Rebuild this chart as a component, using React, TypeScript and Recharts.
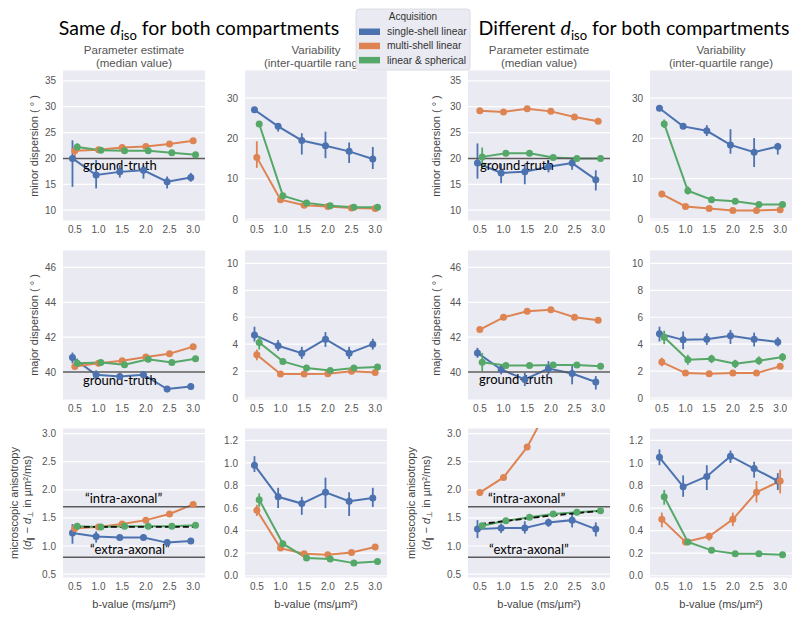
import React from "react";
import { LineChart, Line, XAxis, YAxis, CartesianGrid, ReferenceLine, ErrorBar } from "recharts";

// categories and series
const B_VALUES = ["0.5", "1.0", "1.5", "2.0", "2.5", "3.0"];
const SERIES_NAMES = ["single-shell linear", "multi-shell linear", "linear & spherical"];
const SERIES_COLORS = ["#4C72B0", "#DD8452", "#55A868"];
const DODGE = [-0.1, 0, 0.1];

// minor dispersion, same d_iso (median)
const minorSameSingle = [20.0, 16.8, 17.4, 17.7, 15.5, 16.3];
const minorSameSingleCI = [[14.5, 23.5], [14.2, 19.7], [16.3, 18.7], [16.1, 18.6], [14.2, 16.5], [15.5, 17.2]];
const minorSameMulti = [21.5, 21.7, 22.1, 22.3, 22.8, 23.4];
const minorSameMultiCI = [[20.2, 22.5], [21.2, 22.2], [21.7, 22.5], [21.9, 22.7], [22.4, 23.2], [23.0, 23.8]];
const minorSameSph = [22.2, 21.6, 21.5, 21.5, 21.1, 20.7];
const minorSameSphCI = [[21.4, 22.9], [21.2, 22.0], [21.1, 21.9], [21.1, 21.9], [20.7, 21.5], [20.3, 21.1]];

// minor dispersion, same d_iso (IQR)
const minorSameIqrSingle = [27.1, 23.0, 19.5, 18.2, 16.8, 14.9];
const minorSameIqrSingleCI = [[26.5, 27.6], [21.7, 23.8], [16.0, 21.3], [15.1, 21.7], [13.9, 19.0], [12.4, 17.9]];
const minorSameIqrMulti = [15.3, 4.8, 3.4, 3.1, 2.7, 2.6];
const minorSameIqrMultiCI = [[12.7, 19.3], [4.4, 5.2], [3.1, 3.7], [2.8, 3.4], [2.4, 3.0], [2.3, 2.9]];
const minorSameIqrSph = [23.6, 5.8, 4.0, 3.3, 2.9, 2.9];
const minorSameIqrSphCI = [[22.9, 24.3], [5.3, 6.3], [3.7, 4.3], [3.0, 3.6], [2.6, 3.2], [2.6, 3.2]];

// minor dispersion, different d_iso (median)
const minorDiffSingle = [19.1, 17.2, 17.4, 18.4, 19.1, 15.9];
const minorDiffSingleCI = [[16.1, 22.9], [15.2, 19.0], [15.0, 19.0], [17.3, 19.6], [17.8, 19.9], [13.8, 17.7]];
const minorDiffMulti = [29.2, 29.0, 29.6, 29.1, 28.0, 27.2];
const minorDiffMultiCI = [[28.9, 29.5], [28.7, 29.3], [29.3, 29.9], [28.8, 29.4], [27.7, 28.3], [26.9, 27.5]];
const minorDiffSph = [20.3, 21.0, 21.0, 20.2, 20.0, 20.0];
const minorDiffSphCI = [[18.1, 22.1], [20.6, 21.4], [20.6, 21.4], [19.8, 20.6], [19.7, 20.3], [19.7, 20.3]];

// minor dispersion, different d_iso (IQR)
const minorDiffIqrSingle = [27.5, 23.0, 21.9, 18.4, 16.6, 18.0];
const minorDiffIqrSingleCI = [[27.0, 27.9], [22.3, 23.7], [20.6, 23.3], [16.2, 22.3], [12.9, 20.1], [16.0, 18.9]];
const minorDiffIqrMulti = [6.2, 3.1, 2.6, 2.1, 2.1, 2.3];
const minorDiffIqrMultiCI = [[5.4, 6.9], [2.8, 3.4], [2.3, 2.9], [1.8, 2.4], [1.8, 2.4], [2.0, 2.6]];
const minorDiffIqrSph = [23.6, 7.0, 4.8, 4.4, 3.6, 3.6];
const minorDiffIqrSphCI = [[22.6, 24.7], [6.1, 8.1], [4.5, 5.1], [4.1, 4.7], [3.3, 3.9], [3.3, 3.9]];

// major dispersion, same d_iso (median)
const majorSameSingle = [40.83, 39.85, 39.75, 39.85, 39.03, 39.18];
const majorSameSingleCI = [[40.51, 41.12], [39.6, 40.1], [39.55, 39.95], [39.65, 40.05], [38.85, 39.2], [39.0, 39.35]];
const majorSameMulti = [40.32, 40.51, 40.65, 40.86, 41.05, 41.46];
const majorSameMultiCI = [[40.2, 40.45], [40.41, 40.61], [40.55, 40.75], [40.76, 40.96], [40.95, 41.15], [41.36, 41.56]];
const majorSameSph = [40.51, 40.55, 40.42, 40.74, 40.55, 40.76];
const majorSameSphCI = [[40.25, 40.78], [40.4, 40.7], [40.28, 40.56], [40.6, 40.88], [40.42, 40.68], [40.62, 40.9]];

// major dispersion, same d_iso (IQR)
const majorSameIqrSingle = [4.69, 3.88, 3.33, 4.37, 3.33, 4.0];
const majorSameIqrSingleCI = [[4.2, 5.3], [3.5, 4.3], [2.9, 3.8], [3.8, 4.9], [2.9, 3.8], [3.6, 4.4]];
const majorSameIqrMulti = [3.21, 1.78, 1.78, 1.8, 1.98, 1.9];
const majorSameIqrMultiCI = [[2.8, 3.6], [1.65, 1.9], [1.65, 1.9], [1.68, 1.92], [1.86, 2.1], [1.78, 2.02]];
const majorSameIqrSph = [4.12, 2.72, 2.22, 2.05, 2.22, 2.3];
const majorSameIqrSphCI = [[3.6, 4.6], [2.55, 2.9], [2.08, 2.36], [1.92, 2.18], [2.08, 2.36], [2.15, 2.45]];

// major dispersion, different d_iso (median)
const majorDiffSingle = [41.1, 40.15, 39.58, 40.2, 39.92, 39.43];
const majorDiffSingleCI = [[40.82, 41.39], [39.87, 40.43], [39.2, 39.96], [39.87, 40.63], [39.3, 40.44], [39.0, 39.77]];
const majorDiffMulti = [42.44, 43.14, 43.49, 43.58, 43.14, 42.97];
const majorDiffMultiCI = [[42.3, 42.58], [43.0, 43.28], [43.35, 43.63], [43.42, 43.74], [43.0, 43.28], [42.82, 43.12]];
const majorDiffSph = [40.57, 40.38, 40.38, 40.4, 40.4, 40.34];
const majorDiffSphCI = [[40.06, 41.1], [40.22, 40.55], [40.22, 40.55], [40.24, 40.56], [40.24, 40.56], [40.18, 40.5]];

// major dispersion, different d_iso (IQR)
const majorDiffIqrSingle = [4.77, 4.32, 4.37, 4.62, 4.37, 4.17];
const majorDiffIqrSingleCI = [[4.2, 5.3], [3.63, 4.94], [3.95, 4.8], [4.02, 5.06], [3.83, 4.86], [3.83, 4.52]];
const majorDiffIqrMulti = [2.67, 1.85, 1.8, 1.85, 1.85, 2.35];
const majorDiffIqrMultiCI = [[2.35, 3.0], [1.72, 1.98], [1.67, 1.93], [1.72, 1.98], [1.72, 1.98], [2.2, 2.5]];
const majorDiffIqrSph = [4.52, 2.84, 2.91, 2.54, 2.77, 3.04];
const majorDiffIqrSphCI = [[4.0, 5.0], [2.47, 3.21], [2.59, 3.21], [2.22, 2.84], [2.47, 3.09], [2.72, 3.33]];

// microscopic anisotropy, same d_iso (median)
const anisoSameSingle = [1.23, 1.17, 1.15, 1.15, 1.06, 1.09];
const anisoSameSingleCI = [[1.04, 1.39], [1.06, 1.26], [1.1, 1.2], [1.1, 1.2], [1.02, 1.1], [1.05, 1.13]];
const anisoSameMulti = [1.31, 1.34, 1.39, 1.46, 1.57, 1.74];
const anisoSameMultiCI = [[1.25, 1.39], [1.31, 1.37], [1.36, 1.42], [1.43, 1.49], [1.54, 1.6], [1.71, 1.77]];
const anisoSameSph = [1.35, 1.34, 1.35, 1.35, 1.35, 1.37];
const anisoSameSphCI = [[1.29, 1.41], [1.32, 1.37], [1.33, 1.37], [1.33, 1.37], [1.33, 1.37], [1.35, 1.39]];
const anisoSameTruth = [1.34, 1.34, 1.34, 1.34, 1.34, 1.34];

// microscopic anisotropy, same d_iso (IQR)
const anisoSameIqrSingle = [0.98, 0.7, 0.64, 0.74, 0.66, 0.69];
const anisoSameIqrSingleCI = [[0.92, 1.06], [0.6, 0.78], [0.54, 0.7], [0.6, 0.87], [0.53, 0.74], [0.61, 0.78]];
const anisoSameIqrMulti = [0.58, 0.245, 0.195, 0.186, 0.207, 0.254];
const anisoSameIqrMultiCI = [[0.53, 0.63], [0.23, 0.26], [0.18, 0.21], [0.17, 0.2], [0.19, 0.22], [0.24, 0.27]];
const anisoSameIqrSph = [0.674, 0.284, 0.157, 0.148, 0.112, 0.127];
const anisoSameIqrSphCI = [[0.61, 0.73], [0.26, 0.31], [0.145, 0.17], [0.135, 0.16], [0.1, 0.125], [0.115, 0.14]];

// microscopic anisotropy, different d_iso (median)
const anisoDiffSingle = [1.3, 1.32, 1.32, 1.42, 1.46, 1.3];
const anisoDiffSingleCI = [[1.14, 1.46], [1.23, 1.4], [1.22, 1.44], [1.34, 1.49], [1.33, 1.58], [1.17, 1.42]];
const anisoDiffMulti = [1.95, 2.22, 2.76, 3.55, 4.4, 5.3];
const anisoDiffMultiCI = [[1.92, 1.98], [2.19, 2.25], [2.72, 2.8], [3.5, 3.6], [4.34, 4.46], [5.22, 5.38]];
const anisoDiffSph = [1.36, 1.45, 1.51, 1.57, 1.6, 1.625];
const anisoDiffSphCI = [[1.33, 1.39], [1.43, 1.47], [1.49, 1.53], [1.55, 1.59], [1.58, 1.62], [1.6, 1.65]];
const anisoDiffTruth = [1.39, 1.44, 1.49, 1.54, 1.58, 1.62];

// microscopic anisotropy, different d_iso (IQR)
const anisoDiffIqrSingle = [1.05, 0.79, 0.88, 1.06, 0.95, 0.84];
const anisoDiffIqrSingleCI = [[0.98, 1.12], [0.7, 0.89], [0.76, 0.98], [1.0, 1.11], [0.87, 1.01], [0.76, 0.91]];
const anisoDiffIqrMulti = [0.5, 0.3, 0.35, 0.5, 0.74, 0.84];
const anisoDiffIqrMultiCI = [[0.43, 0.56], [0.27, 0.33], [0.31, 0.38], [0.44, 0.56], [0.65, 0.84], [0.73, 0.94]];
const anisoDiffIqrSph = [0.7, 0.3, 0.225, 0.195, 0.195, 0.186];
const anisoDiffIqrSphCI = [[0.63, 0.76], [0.28, 0.32], [0.21, 0.24], [0.18, 0.21], [0.18, 0.21], [0.17, 0.2]];

// layout
const COL_X = [63, 245, 468, 650];
const ROW_Y = [70, 250, 428];
const ROW_H = [151, 150, 150];
const PLOT_W = 142;
const Y_AXIS_W = 40;
const TOP_PAD = 6;
const X_AXIS_H = 24;

const TICK_STYLE = { fill: "#555", fontSize: 10, fontFamily: "Liberation Sans, Arial, sans-serif" };
const NOTE_FONT = "Lato, 'Open Sans', sans-serif";

const MINOR_TICKS = [10, 15, 20, 25, 30, 35];
const MINOR_IQR_TICKS = [0, 10, 20, 30];
const MAJOR_TICKS = [40, 42, 44, 46];
const MAJOR_IQR_TICKS = [0, 2, 4, 6, 8, 10];
const ANISO_TICKS = [0.5, 1.0, 1.5, 2.0, 2.5, 3.0];
const ANISO_IQR_TICKS = [0, 0.2, 0.4, 0.6, 0.8, 1.0, 1.2];

type Ref = { y: number; text: string; dx: number; dy: number };
type PanelDef = {
  col: number;
  row: number;
  series: [number[], number[][]][];
  domain: [number, number];
  ticks: number[];
  decimals: number;
  refs: Ref[];
  truth?: number[];
};

const gt = (y: number, dx: number, dy: number): Ref => ({ y, text: "ground-truth", dx, dy });

const PANELS: PanelDef[] = [
  { col: 0, row: 0, domain: [7.9, 37.1], ticks: MINOR_TICKS, decimals: 0, refs: [gt(20, 20, 7)],
    series: [[minorSameSingle, minorSameSingleCI], [minorSameMulti, minorSameMultiCI], [minorSameSph, minorSameSphCI]] },
  { col: 1, row: 0, domain: [-0.5, 37], ticks: MINOR_IQR_TICKS, decimals: 0, refs: [],
    series: [[minorSameIqrSingle, minorSameIqrSingleCI], [minorSameIqrMulti, minorSameIqrMultiCI], [minorSameIqrSph, minorSameIqrSphCI]] },
  { col: 2, row: 0, domain: [7.9, 37.1], ticks: MINOR_TICKS, decimals: 0, refs: [gt(20, 12, 7)],
    series: [[minorDiffSingle, minorDiffSingleCI], [minorDiffMulti, minorDiffMultiCI], [minorDiffSph, minorDiffSphCI]] },
  { col: 3, row: 0, domain: [-0.5, 37], ticks: MINOR_IQR_TICKS, decimals: 0, refs: [],
    series: [[minorDiffIqrSingle, minorDiffIqrSingleCI], [minorDiffIqrMulti, minorDiffIqrMultiCI], [minorDiffIqrSph, minorDiffIqrSphCI]] },
  { col: 0, row: 1, domain: [38.4, 47.0], ticks: MAJOR_TICKS, decimals: 0, refs: [gt(40, 20, 8)],
    series: [[majorSameSingle, majorSameSingleCI], [majorSameMulti, majorSameMultiCI], [majorSameSph, majorSameSphCI]] },
  { col: 1, row: 1, domain: [-0.15, 11], ticks: MAJOR_IQR_TICKS, decimals: 0, refs: [],
    series: [[majorSameIqrSingle, majorSameIqrSingleCI], [majorSameIqrMulti, majorSameIqrMultiCI], [majorSameIqrSph, majorSameIqrSphCI]] },
  { col: 2, row: 1, domain: [38.4, 47.0], ticks: MAJOR_TICKS, decimals: 0, refs: [gt(40, 11, 7)],
    series: [[majorDiffSingle, majorDiffSingleCI], [majorDiffMulti, majorDiffMultiCI], [majorDiffSph, majorDiffSphCI]] },
  { col: 3, row: 1, domain: [-0.15, 11], ticks: MAJOR_IQR_TICKS, decimals: 0, refs: [],
    series: [[majorDiffIqrSingle, majorDiffIqrSingleCI], [majorDiffIqrMulti, majorDiffIqrMultiCI], [majorDiffIqrSph, majorDiffIqrSphCI]] },
  { col: 0, row: 2, domain: [0.43, 3.1], ticks: ANISO_TICKS, decimals: 1, truth: anisoSameTruth,
    refs: [{ y: 1.7, text: "\u201Cintra-axonal\u201D", dx: 22, dy: -9 }, { y: 0.8, text: "\u201Cextra-axonal\u201D", dx: 27, dy: -8 }],
    series: [[anisoSameSingle, anisoSameSingleCI], [anisoSameMulti, anisoSameMultiCI], [anisoSameSph, anisoSameSphCI]] },
  { col: 1, row: 2, domain: [-0.02, 1.31], ticks: ANISO_IQR_TICKS, decimals: 1, refs: [],
    series: [[anisoSameIqrSingle, anisoSameIqrSingleCI], [anisoSameIqrMulti, anisoSameIqrMultiCI], [anisoSameIqrSph, anisoSameIqrSphCI]] },
  { col: 2, row: 2, domain: [0.43, 3.1], ticks: ANISO_TICKS, decimals: 1, truth: anisoDiffTruth,
    refs: [{ y: 1.7, text: "\u201Cintra-axonal\u201D", dx: 20, dy: -9 }, { y: 0.8, text: "\u201Cextra-axonal\u201D", dx: 21, dy: -8 }],
    series: [[anisoDiffSingle, anisoDiffSingleCI], [anisoDiffMulti, anisoDiffMultiCI], [anisoDiffSph, anisoDiffSphCI]] },
  { col: 3, row: 2, domain: [-0.02, 1.31], ticks: ANISO_IQR_TICKS, decimals: 1, refs: [],
    series: [[anisoDiffIqrSingle, anisoDiffIqrSingleCI], [anisoDiffIqrMulti, anisoDiffIqrMultiCI], [anisoDiffIqrSph, anisoDiffIqrSphCI]] },
];

const Panel = ({ p }: { p: PanelDef }) => {
  const plotH = ROW_H[p.row];
  return (
    <div style={{ position: "absolute", left: COL_X[p.col] - Y_AXIS_W, top: ROW_Y[p.row] - TOP_PAD }}>
      <LineChart
        width={Y_AXIS_W + PLOT_W + 6}
        height={TOP_PAD + plotH + X_AXIS_H}
        margin={{ top: TOP_PAD, right: 6, bottom: 0, left: 0 }}
      >
        <CartesianGrid vertical={false} fill="#EAEAF2" fillOpacity={1} stroke="#ffffff" strokeWidth={1.2} />
        <XAxis
          type="number"
          dataKey="x"
          domain={[-0.5, 5.5]}
          ticks={[0, 1, 2, 3, 4, 5]}
          tickFormatter={(v: number) => B_VALUES[v]}
          axisLine={false}
          tickLine={false}
          tickSize={3}
          tickMargin={2}
          height={X_AXIS_H}
          tick={TICK_STYLE}
          allowDataOverflow
          interval={0}
        />
        <YAxis
          type="number"
          domain={p.domain}
          ticks={p.ticks}
          allowDataOverflow
          width={Y_AXIS_W}
          axisLine={false}
          tickLine={false}
          tickSize={4}
          tickMargin={3}
          tick={TICK_STYLE}
          interval={0}
          tickFormatter={(v: number) => v.toFixed(p.decimals)}
        />
        {p.series.map(([vals, ci], s) => {
          const data = vals.map((v, i) => ({ x: i + DODGE[s], y: v, err: [v - ci[i][0], ci[i][1] - v] }));
          return (
            <Line
              key={SERIES_NAMES[s]}
              name={SERIES_NAMES[s]}
              data={data}
              dataKey="y"
              stroke={SERIES_COLORS[s]}
              strokeWidth={2}
              dot={{ r: 3.5, fill: SERIES_COLORS[s], stroke: SERIES_COLORS[s], strokeWidth: 0 }}
              isAnimationActive={false}
            >
              <ErrorBar dataKey="err" width={0} stroke={SERIES_COLORS[s]} strokeWidth={1.8} direction="y" />
            </Line>
          );
        })}
        {p.truth && (
          <Line
            data={p.truth.map((v, i) => ({ x: i, y: v }))}
            dataKey="y"
            stroke="#111"
            strokeWidth={1.8}
            strokeDasharray="6 3"
            dot={false}
            isAnimationActive={false}
          />
        )}
        {p.refs.map((r) => (
          <ReferenceLine
            key={r.text}
            y={r.y}
            stroke="#5a5a5a"
            strokeWidth={1.5}
            label={(props: any) => (
              <text
                x={props.viewBox.x + r.dx}
                y={props.viewBox.y + r.dy}
                dominantBaseline="central"
                fontFamily={NOTE_FONT}
                fontSize={13}
                fill="#000"
              >
                {r.text}
              </text>
            )}
          />
        ))}
      </LineChart>
    </div>
  );
};

const LABEL_FONT = "Liberation Sans, Arial, sans-serif";
const SUBTITLES = [
  ["Parameter estimate", "(median value)"],
  ["Variability", "(inter-quartile range)"],
  ["Parameter estimate", "(median value)"],
  ["Variability", "(inter-quartile range)"],
];

const YLabel = ({ x, y, children }: { x: number; y: number; children: React.ReactNode }) => (
  <text
    x={x}
    y={y}
    transform={`rotate(-90 ${x} ${y})`}
    textAnchor="middle"
    dominantBaseline="central"
    fontFamily={LABEL_FONT}
    fontSize={11}
    fill="#444"
  >
    {children}
  </text>
);

const AnisoLabel = ({ x, y }: { x: number; y: number }) => (
  <YLabel x={x} y={y}>
    (<tspan fontStyle="italic">d</tspan>
    <tspan fontSize={8} dy={3}>∥</tspan>
    <tspan dy={-3}> − </tspan>
    <tspan fontStyle="italic">d</tspan>
    <tspan fontSize={8} dy={3}>⊥</tspan>
    <tspan dy={-3}> in µm²/ms)</tspan>
  </YLabel>
);

const Title = ({ x, prefix }: { x: number; prefix: string }) => (
  <text x={x} y={35} textAnchor="middle" fontFamily={NOTE_FONT} fontSize={19.5} fill="#000">
    {prefix} <tspan fontStyle="italic">d</tspan>
    <tspan fontSize={13} dy={5}>iso</tspan>
    <tspan dy={-5}> for both compartments</tspan>
  </text>
);

const Overlay = () => (
  <svg width={800} height={621} style={{ position: "absolute", left: 0, top: 0, pointerEvents: "none" }}>
    <Title x={199} prefix="Same" />
    <Title x={634} prefix="Different" />
    {SUBTITLES.map(([a, b], c) => (
      <g key={c} fontFamily={LABEL_FONT} fontSize={11.5} fill="#555" textAnchor="middle">
        <text x={COL_X[c] + PLOT_W / 2} y={54}>{a}</text>
        <text x={COL_X[c] + PLOT_W / 2} y={67}>{b}</text>
      </g>
    ))}
    <YLabel x={34} y={146}>minor dispersion ( ° )</YLabel>
    <YLabel x={436} y={146}>minor dispersion ( ° )</YLabel>
    <YLabel x={34} y={325}>major dispersion ( ° )</YLabel>
    <YLabel x={436} y={325}>major dispersion ( ° )</YLabel>
    <YLabel x={14} y={503}>microscopic anisotropy</YLabel>
    <AnisoLabel x={27} y={503} />
    <YLabel x={411} y={503}>microscopic anisotropy</YLabel>
    <AnisoLabel x={426} y={503} />
    {COL_X.map((cx, c) => (
      <text key={c} x={cx + PLOT_W / 2} y={608} textAnchor="middle" fontFamily={LABEL_FONT} fontSize={11} fill="#444">
        b-value (ms/µm²)
      </text>
    ))}
    {/* legend */}
    <rect x={356} y={9} width={114} height={61} rx={3} fill="#EAEAF2" stroke="#d6d6de" strokeWidth={0.8} />
    <text x={413} y={20} textAnchor="middle" fontFamily={LABEL_FONT} fontSize={10} fill="#333">Acquisition</text>
    {SERIES_NAMES.map((n, i) => (
      <g key={n}>
        <rect x={359} y={28.5 + i * 14.2} width={21} height={6.5} fill={SERIES_COLORS[i]} />
        <text x={387} y={34.5 + i * 14.5} fontFamily={LABEL_FONT} fontSize={10.3} fill="#333">{n}</text>
      </g>
    ))}
  </svg>
);

export default function App() {
  return (
    <div style={{ position: "absolute", left: 0, top: 0, width: 800, height: 621, background: "#fff" }}>
      {PANELS.map((p, i) => (
        <Panel key={i} p={p} />
      ))}
      <Overlay />
    </div>
  );
}
